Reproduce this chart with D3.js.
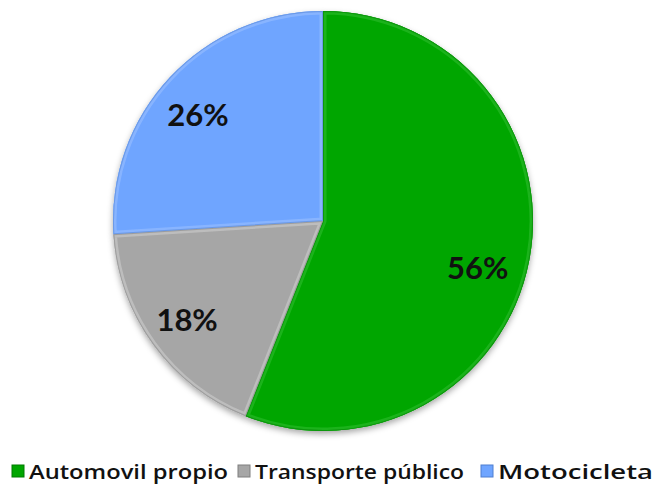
<!DOCTYPE html>
<html><head><meta charset="utf-8">
<script src="https://cdn.jsdelivr.net/npm/d3@7/dist/d3.min.js"></script>
<style>body{margin:0;background:#fff}svg{display:block}</style>
</head><body>
<svg id="chart" width="658" height="485"></svg>
<script>
const categories = ["Automovil propio", "Transporte público", "Motocicleta"];
const values = [56, 18, 26];
const labels = ["56%", "18%", "26%"];
const colors = ["#00A600", "#A6A6A6", "#6FA5FF"];
const edgeLight = ["#3cc43c", "#d9d9d9", "#a6c8ff"];
const edgeDark = ["#007a00", "#7f7f7f", "#4f7fd0"];

const svg = d3.select("#chart");
const cx = 323, cy = 221, r = 210;
const defs = svg.append("defs");
const f = defs.append("filter").attr("id","sh").attr("x","-20%").attr("y","-20%").attr("width","140%").attr("height","140%");
f.append("feDropShadow").attr("dx",0).attr("dy",3).attr("stdDeviation",3).attr("flood-color","#000").attr("flood-opacity",0.35);

const data = categories.map((c,i)=>({c, v: values[i], i}));
const pie = d3.pie().value(d=>d.v).sort(null);
const arc = d3.arc().innerRadius(0).outerRadius(r);
const arcs = pie(data);

const g = svg.append("g").attr("transform",`translate(${cx},${cy})`);
g.selectAll("path.shadow").data(arcs).join("path").attr("class","shadow")
  .attr("d", arc).attr("fill", d=>colors[d.data.i]).attr("filter","url(#sh)");

arcs.forEach((d,i)=>{
  defs.append("clipPath").attr("id","cp"+i).append("path").attr("d", arc(d));
});
g.selectAll("path.slice").data(arcs).join("path").attr("class","slice")
  .attr("d", arc).attr("fill", d=>colors[d.data.i]);
g.selectAll("path.bevelL").data(arcs).join("path").attr("class","bevelL")
  .attr("d", arc).attr("fill","none").attr("stroke", d=>edgeLight[d.data.i])
  .attr("stroke-width", 7).attr("stroke-opacity",0.45).attr("clip-path",(d,i)=>`url(#cp${i})`);
g.selectAll("path.bevelD").data(arcs).join("path").attr("class","bevelD")
  .attr("d", arc).attr("fill","none").attr("stroke", d=>edgeDark[d.data.i])
  .attr("stroke-width", 2).attr("stroke-opacity",0.5).attr("clip-path",(d,i)=>`url(#cp${i})`);

const labelR = [0.77, 0.80, 0.78];
const labelNudge = [6, 0, -3];
g.selectAll("text.lbl").data(arcs).join("text").attr("class","lbl")
  .attr("transform", (d,i)=>{
    const a = (d.startAngle + d.endAngle)/2 + labelNudge[i]*Math.PI/180;
    const rr = r*labelR[i];
    return `translate(${rr*Math.sin(a)},${-rr*Math.cos(a)})`;
  })
  .attr("text-anchor","middle").attr("dy","0.36em")
  .attr("font-family","Lato, 'Open Sans', sans-serif").attr("font-weight","bold")
  .attr("font-size",31).attr("fill","#111")
  .text((d,i)=>labels[i]);

const legX = [12, 238, 481];
const legW = [199, 209, 155];
const leg = svg.append("g");
categories.forEach((c,i)=>{
  const lg = leg.append("g").attr("transform",`translate(${legX[i]},465)`);
  lg.append("rect").attr("x",0).attr("y",0).attr("width",12).attr("height",12)
    .attr("fill",colors[i]).attr("stroke",edgeDark[i]).attr("stroke-width",1);
  lg.append("text").attr("x",17).attr("y",14).attr("font-family","'Open Sans', Lato, sans-serif")
    .attr("font-weight",600).attr("font-size",20).attr("fill","#111")
    .attr("textLength", legW[i]).attr("lengthAdjust","spacingAndGlyphs").text(c);
});
</script>
</body></html>
